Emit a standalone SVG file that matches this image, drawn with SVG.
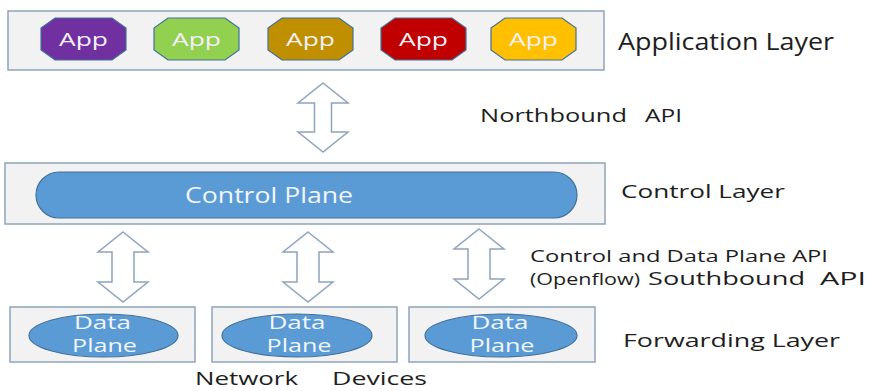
<svg xmlns="http://www.w3.org/2000/svg" width="869" height="391" viewBox="0 0 869 391">
<style>
.box{fill:#f2f2f2;stroke:#8ea4bd;stroke-width:1.5}
.app{stroke:#41719c;stroke-width:1.2}
.apptxt{font-family:"Open Sans","Liberation Sans",sans-serif;font-size:18px;fill:#f4f0f8;text-anchor:middle}
.pill{fill:#5b9bd5;stroke:#41719c;stroke-width:1.2}
.wtxt{font-family:"Open Sans","Liberation Sans",sans-serif;fill:#f2f6fb;text-anchor:middle}
.lbl{font-family:"Open Sans","Liberation Sans",sans-serif;fill:#1e1e1e}
.arr{fill:#ffffff;stroke:#8ea4bd;stroke-width:1.5;stroke-linejoin:miter}
</style>
<rect width="869" height="391" fill="#ffffff"/>

<g id="application-layer">
<rect class="box" x="8" y="11" width="596" height="59"/>
</g>
<g id="app1"><polygon class="app" fill="#7030a0" points="55,18 112,18 126,28 126,50 112,60 55,60 41,50 41,28"/><text class="apptxt" x="83.5" y="46" textLength="49" lengthAdjust="spacingAndGlyphs">App</text></g>
<g id="app2"><polygon class="app" fill="#92d050" points="168,18 225,18 239,28 239,50 225,60 168,60 154,50 154,28"/><text class="apptxt" x="196.5" y="46" textLength="49" lengthAdjust="spacingAndGlyphs">App</text></g>
<g id="app3"><polygon class="app" fill="#bf8f00" points="282,18 339,18 353,28 353,50 339,60 282,60 268,50 268,28"/><text class="apptxt" x="310.5" y="46" textLength="49" lengthAdjust="spacingAndGlyphs">App</text></g>
<g id="app4"><polygon class="app" fill="#c00000" points="395,18 452,18 466,28 466,50 452,60 395,60 381,50 381,28"/><text class="apptxt" x="423.5" y="46" textLength="49" lengthAdjust="spacingAndGlyphs">App</text></g>
<g id="app5"><polygon class="app" fill="#ffc000" points="505,18 562,18 576,28 576,50 562,60 505,60 491,50 491,28"/><text class="apptxt" x="533.5" y="46" textLength="49" lengthAdjust="spacingAndGlyphs">App</text></g>

<g id="control-layer">
<rect class="box" x="5" y="163" width="600" height="61"/>
<rect class="pill" x="36" y="172" width="541" height="46" rx="23" ry="23"/>
<text class="wtxt" x="269" y="203" font-size="22" textLength="168" lengthAdjust="spacingAndGlyphs">Control Plane</text>
</g>

<g id="device1">
<rect class="box" x="10" y="307" width="185" height="55"/>
<ellipse class="pill" cx="103.5" cy="335.5" rx="74.5" ry="21.5"/>
<text class="wtxt" x="102.5" y="329" font-size="18" textLength="57" lengthAdjust="spacingAndGlyphs">Data</text>
<text class="wtxt" x="104.5" y="352" font-size="18" textLength="65" lengthAdjust="spacingAndGlyphs">Plane</text>
</g>
<g id="device2">
<rect class="box" x="212" y="307" width="185" height="55"/>
<ellipse class="pill" cx="297" cy="335.5" rx="75" ry="21.5"/>
<text class="wtxt" x="297" y="329" font-size="18" textLength="57" lengthAdjust="spacingAndGlyphs">Data</text>
<text class="wtxt" x="299" y="352" font-size="18" textLength="65" lengthAdjust="spacingAndGlyphs">Plane</text>
</g>
<g id="device3">
<rect class="box" x="409" y="307" width="186" height="55"/>
<ellipse class="pill" cx="501" cy="335.5" rx="76" ry="21.5"/>
<text class="wtxt" x="500" y="329" font-size="18" textLength="57" lengthAdjust="spacingAndGlyphs">Data</text>
<text class="wtxt" x="502" y="352" font-size="18" textLength="65" lengthAdjust="spacingAndGlyphs">Plane</text>
</g>

<g id="connectors">
<path class="arr" d="M323,83 L348,103 L331.5,103 L331.5,132 L348,132 L323,152 L298,132 L314.5,132 L314.5,103 L298,103 Z"/>
<path class="arr" d="M123,232 L148,252 L134,252 L134,282 L148,282 L123,302 L98,282 L112,282 L112,252 L98,252 Z"/>
<path class="arr" d="M308,232 L333,252 L319,252 L319,282 L333,282 L308,302 L283,282 L297,282 L297,252 L283,252 Z"/>
<path class="arr" d="M479,229 L504,249 L490,249 L490,279 L504,279 L479,299 L454,279 L468,279 L468,249 L454,249 Z"/>
</g>

<g id="labels">
<text class="lbl" x="618" y="50" font-size="23" textLength="216" lengthAdjust="spacingAndGlyphs">Application Layer</text>
<text class="lbl" font-size="19"><tspan x="480" y="122" textLength="147" lengthAdjust="spacingAndGlyphs">Northbound</tspan><tspan x="645" y="122" textLength="37" lengthAdjust="spacingAndGlyphs">API</tspan></text>
<text class="lbl" x="621" y="198" font-size="19" textLength="164" lengthAdjust="spacingAndGlyphs">Control Layer</text>
<text class="lbl" x="530" y="262" font-size="16" textLength="298" lengthAdjust="spacingAndGlyphs">Control and Data Plane API</text>
<text class="lbl"><tspan x="530" y="285" font-size="16" textLength="110" lengthAdjust="spacingAndGlyphs">(Openflow)</tspan><tspan x="648" y="285" font-size="19" textLength="157" lengthAdjust="spacingAndGlyphs">Southbound</tspan><tspan x="820" y="285" font-size="19" textLength="46" lengthAdjust="spacingAndGlyphs">API</tspan></text>
<text class="lbl" x="623" y="347" font-size="19" textLength="217" lengthAdjust="spacingAndGlyphs">Forwarding Layer</text>
<text class="lbl" font-size="18"><tspan x="195" y="385" textLength="103" lengthAdjust="spacingAndGlyphs">Network</tspan><tspan x="332" y="385" textLength="95" lengthAdjust="spacingAndGlyphs">Devices</tspan></text>
</g>
</svg>
